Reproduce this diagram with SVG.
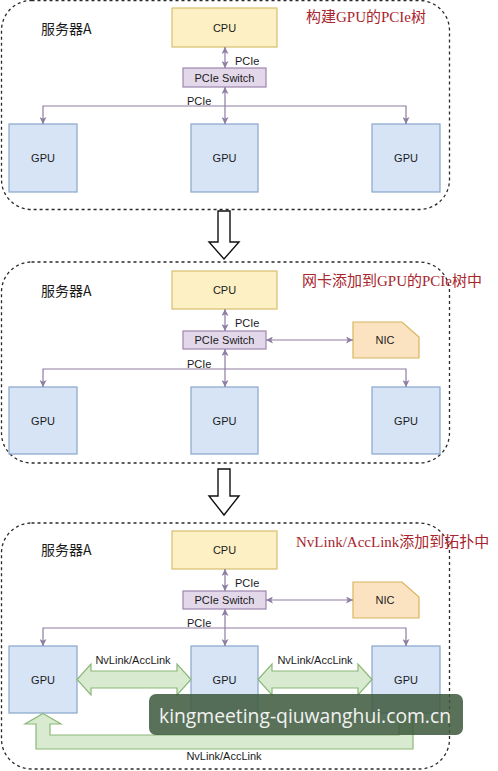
<svg xmlns="http://www.w3.org/2000/svg" width="498" height="771" viewBox="0 0 498 771">
<defs>
<style>
.panel{fill:none;stroke:#2a2a2a;stroke-width:1.3;stroke-dasharray:3 3}
.cpu{fill:#fdf0c4;stroke:#d8bf6e;stroke-width:1.2}
.sw{fill:#e3d8ea;stroke:#9c86ad;stroke-width:1.2}
.gpu{fill:#d6e4f6;stroke:#88a6cc;stroke-width:1.2}
.nic{fill:#fbe3c2;stroke:#d9b45a;stroke-width:1.2}
.t{font-family:"Liberation Sans",Arial,sans-serif;font-size:11px;fill:#1a1a1a;text-anchor:middle}
.l{font-family:"Liberation Sans",Arial,sans-serif;font-size:11px;fill:#1a1a1a}
.srv{font-family:"Noto Sans CJK SC","Liberation Sans",sans-serif;font-size:14px;fill:#1a1a1a}
.ttl{font-family:"Liberation Serif","Noto Sans CJK SC",serif;font-size:15px;fill:#a8262e}
.ln{fill:none;stroke:#8e7ea2;stroke-width:1.2}
.fat{fill:#d8eacf;stroke:#8cb878;stroke-width:1.2}
.big{fill:#ffffff;stroke:#111;stroke-width:1.4}
</style>
<marker id="ah" viewBox="0 0 8 8" refX="8" refY="4" markerWidth="7" markerHeight="7" markerUnits="userSpaceOnUse" orient="auto-start-reverse">
<path d="M0,0 L8,4 L0,8 L2,4 Z" fill="#8e7ea2"/>
</marker>
</defs>
<rect width="498" height="771" fill="#ffffff"/>

<!-- Panel 1 -->
<g id="panel1">
<rect class="panel" x="1.5" y="0.5" width="448" height="209" rx="30"/>
<text class="srv" x="41" y="34">服务器A</text>
<text class="ttl" x="306" y="22">构建GPU的PCIe树</text>
</g>
<g id="p1-cpu"><rect class="cpu" x="172" y="8" width="105" height="39"/><text class="t" x="224.5" y="31.5">CPU</text></g>
<g id="p1-switch"><rect class="sw" x="183" y="68" width="83" height="19"/><text class="t" x="224.5" y="81.5">PCIe Switch</text></g>
<g id="p1-gpu1"><rect class="gpu" x="9" y="124" width="68" height="68"/><text class="t" x="43" y="162">GPU</text></g>
<g id="p1-gpu2"><rect class="gpu" x="191" y="124" width="67" height="68"/><text class="t" x="224.5" y="162">GPU</text></g>
<g id="p1-gpu3"><rect class="gpu" x="372" y="124" width="68" height="68"/><text class="t" x="406" y="162">GPU</text></g>
<g id="p1-connectors">
<line class="ln" x1="225" y1="47" x2="225" y2="68" marker-start="url(#ah)" marker-end="url(#ah)"/>
<line class="ln" x1="225" y1="87" x2="225" y2="124" marker-start="url(#ah)" marker-end="url(#ah)"/>
<path class="ln" d="M225,106 H43 V124" marker-end="url(#ah)"/>
<path class="ln" d="M225,106 H406 V124" marker-end="url(#ah)"/>
<text class="l" x="235" y="65">PCIe</text>
<text class="l" x="187" y="105">PCIe</text>
</g>

<g id="step-arrow1"><path class="big" d="M218,211 H230 V242 H239 L224,259 L209,242 H218 Z"/></g>

<!-- Panel 2 -->
<g id="panel2">
<rect class="panel" x="1.5" y="262" width="448" height="201" rx="30"/>
<text class="srv" x="41" y="296">服务器A</text>
<text class="ttl" x="302" y="286">网卡添加到GPU的PCIe树中</text>
</g>
<g id="p2-cpu"><rect class="cpu" x="172" y="271" width="105" height="38"/><text class="t" x="224.5" y="294">CPU</text></g>
<g id="p2-switch"><rect class="sw" x="183" y="331" width="83" height="18"/><text class="t" x="224.5" y="344">PCIe Switch</text></g>
<g id="p2-nic"><path class="nic" d="M353,322 H402 L419,337 V358 H353 Z"/><text class="t" x="385" y="344">NIC</text></g>
<g id="p2-gpu1"><rect class="gpu" x="9" y="387" width="68" height="67"/><text class="t" x="43" y="424.5">GPU</text></g>
<g id="p2-gpu2"><rect class="gpu" x="191" y="387" width="67" height="67"/><text class="t" x="224.5" y="424.5">GPU</text></g>
<g id="p2-gpu3"><rect class="gpu" x="372" y="387" width="68" height="67"/><text class="t" x="406" y="424.5">GPU</text></g>
<g id="p2-connectors">
<line class="ln" x1="225" y1="309" x2="225" y2="331" marker-start="url(#ah)" marker-end="url(#ah)"/>
<line class="ln" x1="266" y1="340" x2="353" y2="340" marker-start="url(#ah)" marker-end="url(#ah)"/>
<line class="ln" x1="225" y1="349" x2="225" y2="387" marker-start="url(#ah)" marker-end="url(#ah)"/>
<path class="ln" d="M225,369 H43 V387" marker-end="url(#ah)"/>
<path class="ln" d="M225,369 H406 V387" marker-end="url(#ah)"/>
<text class="l" x="235" y="327">PCIe</text>
<text class="l" x="187" y="368">PCIe</text>
</g>

<g id="step-arrow2"><path class="big" d="M218,469 H230 V496 H239 L224,515 L209,496 H218 Z"/></g>

<!-- Panel 3 -->
<g id="panel3">
<rect class="panel" x="1.5" y="523" width="448" height="246" rx="30"/>
<text class="srv" x="41" y="555">服务器A</text>
<text class="ttl" x="296" y="547">NvLink/AccLink添加到拓扑中</text>
</g>
<g id="p3-cpu"><rect class="cpu" x="172" y="531" width="105" height="38"/><text class="t" x="224.5" y="554">CPU</text></g>
<g id="p3-switch"><rect class="sw" x="183" y="591" width="83" height="18"/><text class="t" x="224.5" y="604">PCIe Switch</text></g>
<g id="p3-nic"><path class="nic" d="M353,582 H402 L419,597 V618 H353 Z"/><text class="t" x="385" y="604">NIC</text></g>
<g id="p3-gpu1"><rect class="gpu" x="9" y="646" width="68" height="67"/><text class="t" x="43" y="683.5">GPU</text></g>
<g id="p3-gpu2"><rect class="gpu" x="191" y="646" width="67" height="67"/><text class="t" x="224.5" y="683.5">GPU</text></g>
<g id="p3-gpu3"><rect class="gpu" x="372" y="646" width="68" height="67"/><text class="t" x="406" y="683.5">GPU</text></g>
<g id="p3-connectors">
<line class="ln" x1="225" y1="569" x2="225" y2="591" marker-start="url(#ah)" marker-end="url(#ah)"/>
<line class="ln" x1="266" y1="600" x2="353" y2="600" marker-start="url(#ah)" marker-end="url(#ah)"/>
<line class="ln" x1="225" y1="609" x2="225" y2="646" marker-start="url(#ah)" marker-end="url(#ah)"/>
<path class="ln" d="M225,628 H43 V646" marker-end="url(#ah)"/>
<path class="ln" d="M225,628 H406 V646" marker-end="url(#ah)"/>
<text class="l" x="235" y="587">PCIe</text>
<text class="l" x="187" y="627">PCIe</text>
<path class="fat" d="M77,679.5 L91,664 V671 H177 V664 L191,679.5 L177,695 V688 H91 V695 Z"/>
<path class="fat" d="M258,679.5 L272,664 V671 H358 V664 L372,679.5 L358,695 V688 H272 V695 Z"/>
<path class="fat" d="M43,713.5 L61,724 H50 V735 H399 V713 H413 V749 H36 V724 H25 Z"/>
<text class="t" x="133" y="664">NvLink/AccLink</text>
<text class="t" x="315" y="664">NvLink/AccLink</text>
<text class="t" x="224" y="760">NvLink/AccLink</text>
</g>

<g id="watermark">
<rect x="149" y="694" width="314" height="41" rx="7" fill="#3e5a3e" fill-opacity="0.86"/>
<text x="305" y="723" font-family="'Open Sans','Noto Sans',sans-serif" font-size="20" fill="#f2f2f2" text-anchor="middle" textLength="292" lengthAdjust="spacingAndGlyphs">kingmeeting-qiuwanghui.com.cn</text>
</g>
</svg>
